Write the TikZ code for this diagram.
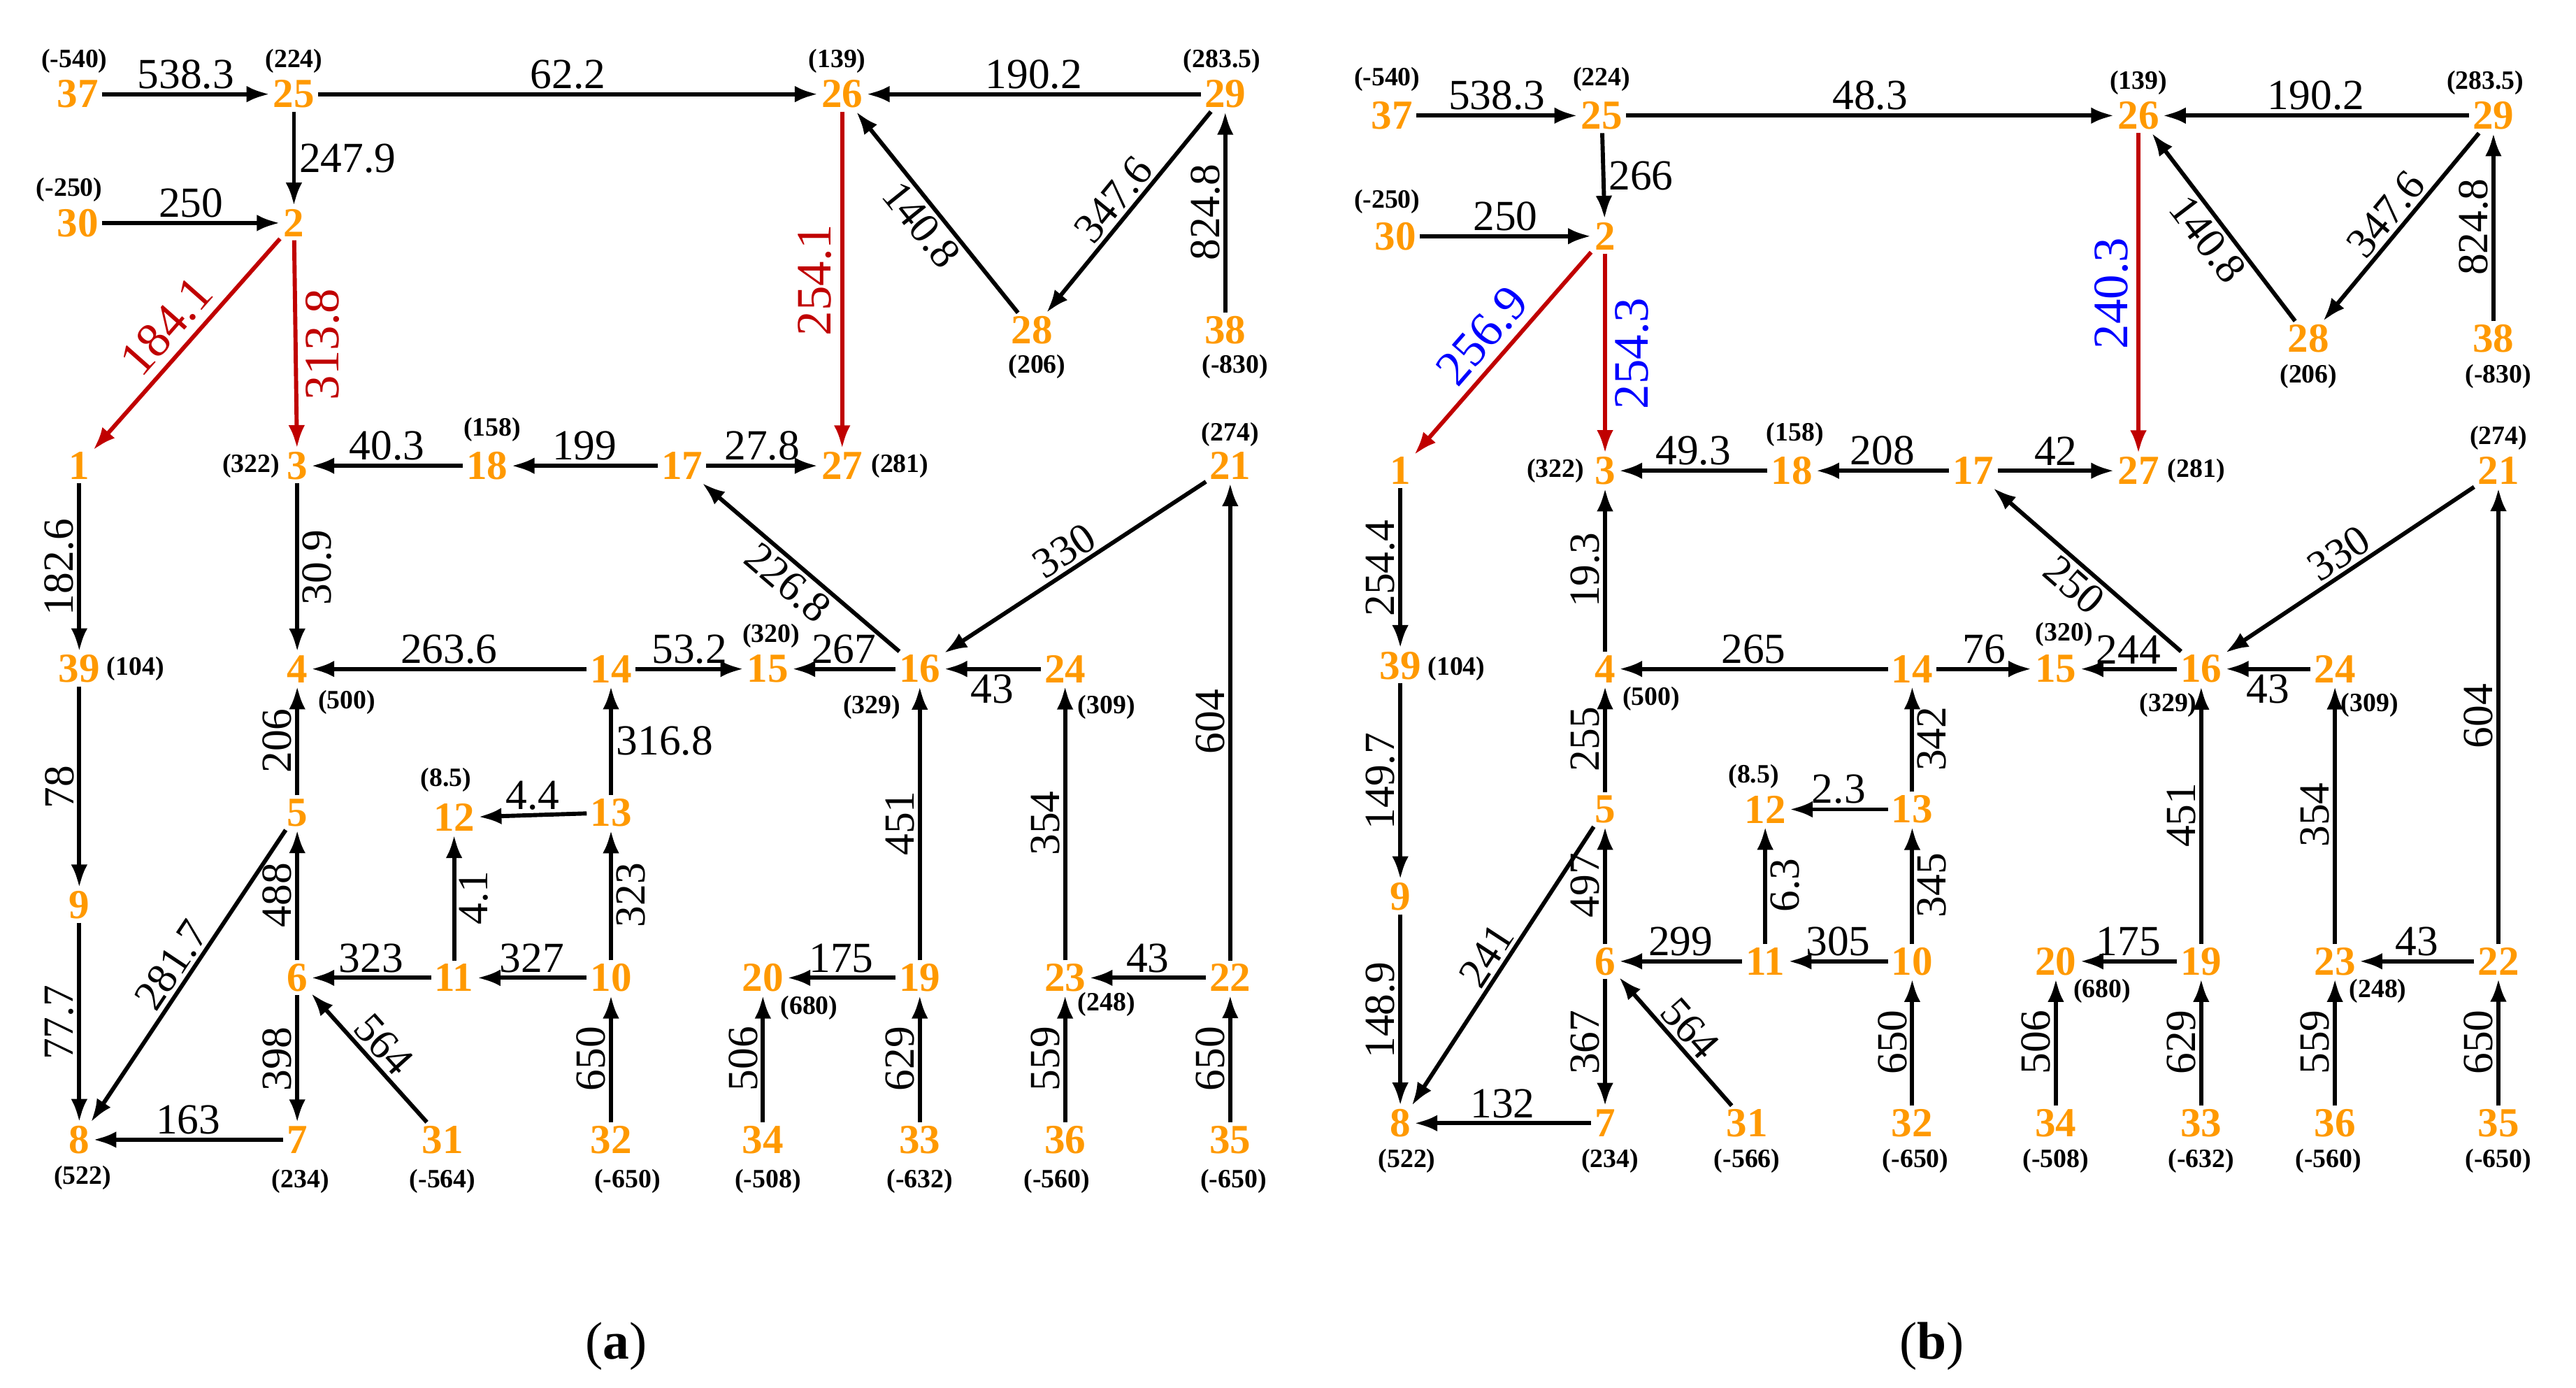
\documentclass[tikz,border=0pt]{standalone}
\usepackage{fontspec}
\setmainfont{Liberation Serif}
\usetikzlibrary{arrows.meta}
\definecolor{busorange}{RGB}{255,153,0}
\definecolor{flowred}{RGB}{192,0,0}
\begin{document}
\begin{tikzpicture}[x=1pt,y=-1pt,
  bus/.style={text=busorange,font=\fontsize{25}{25}\selectfont\bfseries,inner sep=2pt},
  inj/.style={font=\fontsize{16}{16}\selectfont\bfseries,inner sep=0pt},
  line/.style={-{Latex[length=14pt,width=10pt]},line width=2.5pt},
  redline/.style={line,draw=flowred},
  lab/.style={font=\fontsize{26}{26}\selectfont,inner sep=2pt},
  big/.style={font=\fontsize{30}{30}\selectfont,inner sep=5pt},
  vl/.style={lab,rotate=90,above},
  vr/.style={lab,rotate=90,below}]
\useasboundingbox (0,0) rectangle (1560,840);

% panel (a): buses
\foreach \n/\x/\y in {37/47/57,25/178/57,26/510/57,29/742/57,30/47/135,2/178/135,
  28/625/200,38/742/200,1/48/282,3/180/282,18/295/282,17/413/282,27/510/282,21/745/282,
  39/48/405,4/180/405,14/370/405,15/465/405,16/557/405,24/645/405,5/180/492,12/275/495,
  13/370/492,9/48/548,6/180/592,11/275/592,10/370/592,20/462/592,19/557/592,23/645/592,
  22/745/592,8/48/690,7/180/690,31/268/690,32/370/690,34/462/690,33/557/690,36/645/690,35/745/690}
  \node[bus] (a\n) at (\x,\y) {\n};
% panel (a): injections
\foreach \n/\x/\y/\t in {37/45/37/-540,25/178/37/224,26/507/37/139,29/740/37/283.5,
  30/42/115/-250,28/628/222/206,38/748/222/-830,3/152/282/322,18/298/260/158,
  27/545/282/281,21/745/263/274,39/82/405/104,4/210/425/500,15/467/385/320,
  16/528/428/329,24/670/428/309,12/270/472/8.5,20/490/610/680,23/670/608/248,
  8/50/713/522,7/182/715/234,31/268/715/-564,32/380/715/-650,34/465/715/-508,
  33/557/715/-632,36/640/715/-560,35/747/715/-650}
  \node[inj] (a\n i) at (\x,\y) {(\t)};

% panel (a): flows
\draw[line] (a37) -- node[lab,above]{538.3} (a25);
\draw[line] (a25) -- node[lab,above]{62.2} (a26);
\draw[line] (a29) -- node[lab,above]{190.2} (a26);
\draw[line] (a30) -- node[lab,above]{250} (a2);
\draw[line] (a25) -- node[lab,right]{247.9} (a2);
\draw[redline] (a2) -- node[lab,big,sloped,above,text=flowred]{184.1} (a1);
\draw[redline] (a2) -- node[vr,big,text=flowred]{313.8} (a3);
\draw[redline] (a26) -- node[vl,big,text=flowred]{254.1} (a27);
\draw[line] (a28) -- node[lab,sloped,below]{140.8} (a26);
\draw[line] (a29) -- node[lab,sloped,above]{347.6} (a28);
\draw[line] (a38) -- node[vl]{824.8} (a29);
\draw[line] (a18) -- node[lab,above]{40.3} (a3);
\draw[line] (a17) -- node[lab,above]{199} (a18);
\draw[line] (a17) -- node[lab,above]{27.8} (a27);
\draw[line] (a16) -- node[lab,sloped,below]{226.8} (a17);
\draw[line] (a21) -- node[lab,sloped,above]{330} (a16);
\draw[line] (a1) -- node[vl]{182.6} (a39);
\draw[line] (a3) -- node[vr]{30.9} (a4);
\draw[line] (a14) -- node[lab,above]{263.6} (a4);
\draw[line] (a14) -- node[lab,above]{53.2} (a15);
\draw[line] (a16) -- node[lab,above]{267} (a15);
\draw[line] (a24) -- node[lab,below]{43} (a16);
\draw[line] (a39) -- node[vl]{78} (a9);
\draw[line] (a9) -- node[vl]{77.7} (a8);
\draw[line] (a5) -- node[vl]{206} (a4);
\draw[line] (a6) -- node[vl]{488} (a5);
\draw[line] (a5) -- node[lab,sloped,above]{281.7} (a8);
\draw[line] (a13) -- node[lab,above]{4.4} (a12);
\draw[line] (a11) -- node[vr]{4.1} (a12);
\draw[line] (a13) -- node[lab,right]{316.8} (a14);
\draw[line] (a10) -- node[vr]{323} (a13);
\draw[line] (a11) -- node[lab,above]{323} (a6);
\draw[line] (a10) -- node[lab,above]{327} (a11);
\draw[line] (a6) -- node[vl]{398} (a7);
\draw[line] (a31) -- node[lab,sloped,above]{564} (a6);
\draw[line] (a32) -- node[vl]{650} (a10);
\draw[line] (a19) -- node[vl]{451} (a16);
\draw[line] (a19) -- node[lab,above]{175} (a20);
\draw[line] (a34) -- node[vl]{506} (a20);
\draw[line] (a33) -- node[vl]{629} (a19);
\draw[line] (a23) -- node[vl]{354} (a24);
\draw[line] (a22) -- node[lab,above]{43} (a23);
\draw[line] (a36) -- node[vl]{559} (a23);
\draw[line] (a35) -- node[vl]{650} (a22);
\draw[line] (a22) -- node[vl]{604} (a21);
\draw[line] (a7) -- node[lab,above]{163} (a8);

% panel (b): buses
\foreach \n/\x/\y in {37/843/70,25/970/70,26/1295/70,29/1510/70,30/845/143,2/972/143,
  28/1398/205,38/1510/205,1/848/285,3/972/285,18/1085/285,17/1195/285,27/1295/285,21/1513/285,
  39/848/403,4/972/405,14/1158/405,15/1245/405,16/1333/405,24/1414/405,5/972/490,12/1069/490,
  13/1158/490,9/848/543,6/972/582,11/1069/582,10/1158/582,20/1245/582,19/1333/582,23/1414/582,
  22/1513/582,8/848/680,7/972/680,31/1058/680,32/1158/680,34/1245/680,33/1333/680,36/1414/680,35/1513/680}
  \node[bus] (b\n) at (\x,\y) {\n};
% panel (b): injections
\foreach \n/\x/\y/\t in {37/840/48/-540,25/970/48/224,26/1295/50/139,29/1505/50/283.5,
  30/840/122/-250,28/1398/228/206,38/1513/228/-830,3/942/285/322,18/1087/263/158,
  27/1330/285/281,21/1513/265/274,39/882/405/104,4/1000/423/500,15/1250/384/320,
  16/1313/427/329,24/1435/427/309,12/1062/470/8.5,20/1273/600/680,23/1440/600/248,
  8/852/703/522,7/975/703/234,31/1058/703/-566,32/1160/703/-650,34/1245/703/-508,
  33/1333/703/-632,36/1410/703/-560,35/1513/703/-650}
  \node[inj] (b\n i) at (\x,\y) {(\t)};

% panel (b): flows
\draw[line] (b37) -- node[lab,above]{538.3} (b25);
\draw[line] (b25) -- node[lab,above]{48.3} (b26);
\draw[line] (b29) -- node[lab,above]{190.2} (b26);
\draw[line] (b30) -- node[lab,above]{250} (b2);
\draw[line] (b25) -- node[lab,right]{266} (b2);
\draw[redline] (b2) -- node[lab,big,sloped,above,text=blue]{256.9} (b1);
\draw[redline] (b2) -- node[vr,big,text=blue]{254.3} (b3);
\draw[redline] (b26) -- node[vl,big,text=blue]{240.3} (b27);
\draw[line] (b28) -- node[lab,sloped,below]{140.8} (b26);
\draw[line] (b29) -- node[lab,sloped,above]{347.6} (b28);
\draw[line] (b38) -- node[vl]{824.8} (b29);
\draw[line] (b18) -- node[lab,above]{49.3} (b3);
\draw[line] (b17) -- node[lab,above]{208} (b18);
\draw[line] (b17) -- node[lab,above]{42} (b27);
\draw[line] (b16) -- node[lab,sloped,below]{250} (b17);
\draw[line] (b21) -- node[lab,sloped,above]{330} (b16);
\draw[line] (b1) -- node[vl]{254.4} (b39);
\draw[line] (b4) -- node[vl]{19.3} (b3);
\draw[line] (b14) -- node[lab,above]{265} (b4);
\draw[line] (b14) -- node[lab,above]{76} (b15);
\draw[line] (b16) -- node[lab,above]{244} (b15);
\draw[line] (b24) -- node[lab,below]{43} (b16);
\draw[line] (b39) -- node[vl]{149.7} (b9);
\draw[line] (b9) -- node[vl]{148.9} (b8);
\draw[line] (b5) -- node[vl]{255} (b4);
\draw[line] (b6) -- node[vl]{497} (b5);
\draw[line] (b5) -- node[lab,sloped,above]{241} (b8);
\draw[line] (b13) -- node[lab,above]{2.3} (b12);
\draw[line] (b11) -- node[vr]{6.3} (b12);
\draw[line] (b13) -- node[vr]{342} (b14);
\draw[line] (b10) -- node[vr]{345} (b13);
\draw[line] (b11) -- node[lab,above]{299} (b6);
\draw[line] (b10) -- node[lab,above]{305} (b11);
\draw[line] (b6) -- node[vl]{367} (b7);
\draw[line] (b31) -- node[lab,sloped,above]{564} (b6);
\draw[line] (b32) -- node[vl]{650} (b10);
\draw[line] (b19) -- node[vl]{451} (b16);
\draw[line] (b19) -- node[lab,above]{175} (b20);
\draw[line] (b34) -- node[vl]{506} (b20);
\draw[line] (b33) -- node[vl]{629} (b19);
\draw[line] (b23) -- node[vl]{354} (b24);
\draw[line] (b22) -- node[lab,above]{43} (b23);
\draw[line] (b36) -- node[vl]{559} (b23);
\draw[line] (b35) -- node[vl]{650} (b22);
\draw[line] (b22) -- node[vl]{604} (b21);
\draw[line] (b7) -- node[lab,above]{132} (b8);

% captions
\node[lab,font=\fontsize{32}{32}\selectfont] (capa) at (373,815) {(\textbf{a})};
\node[lab,font=\fontsize{32}{32}\selectfont] (capb) at (1170,815) {(\textbf{b})};
\end{tikzpicture}
\end{document}
